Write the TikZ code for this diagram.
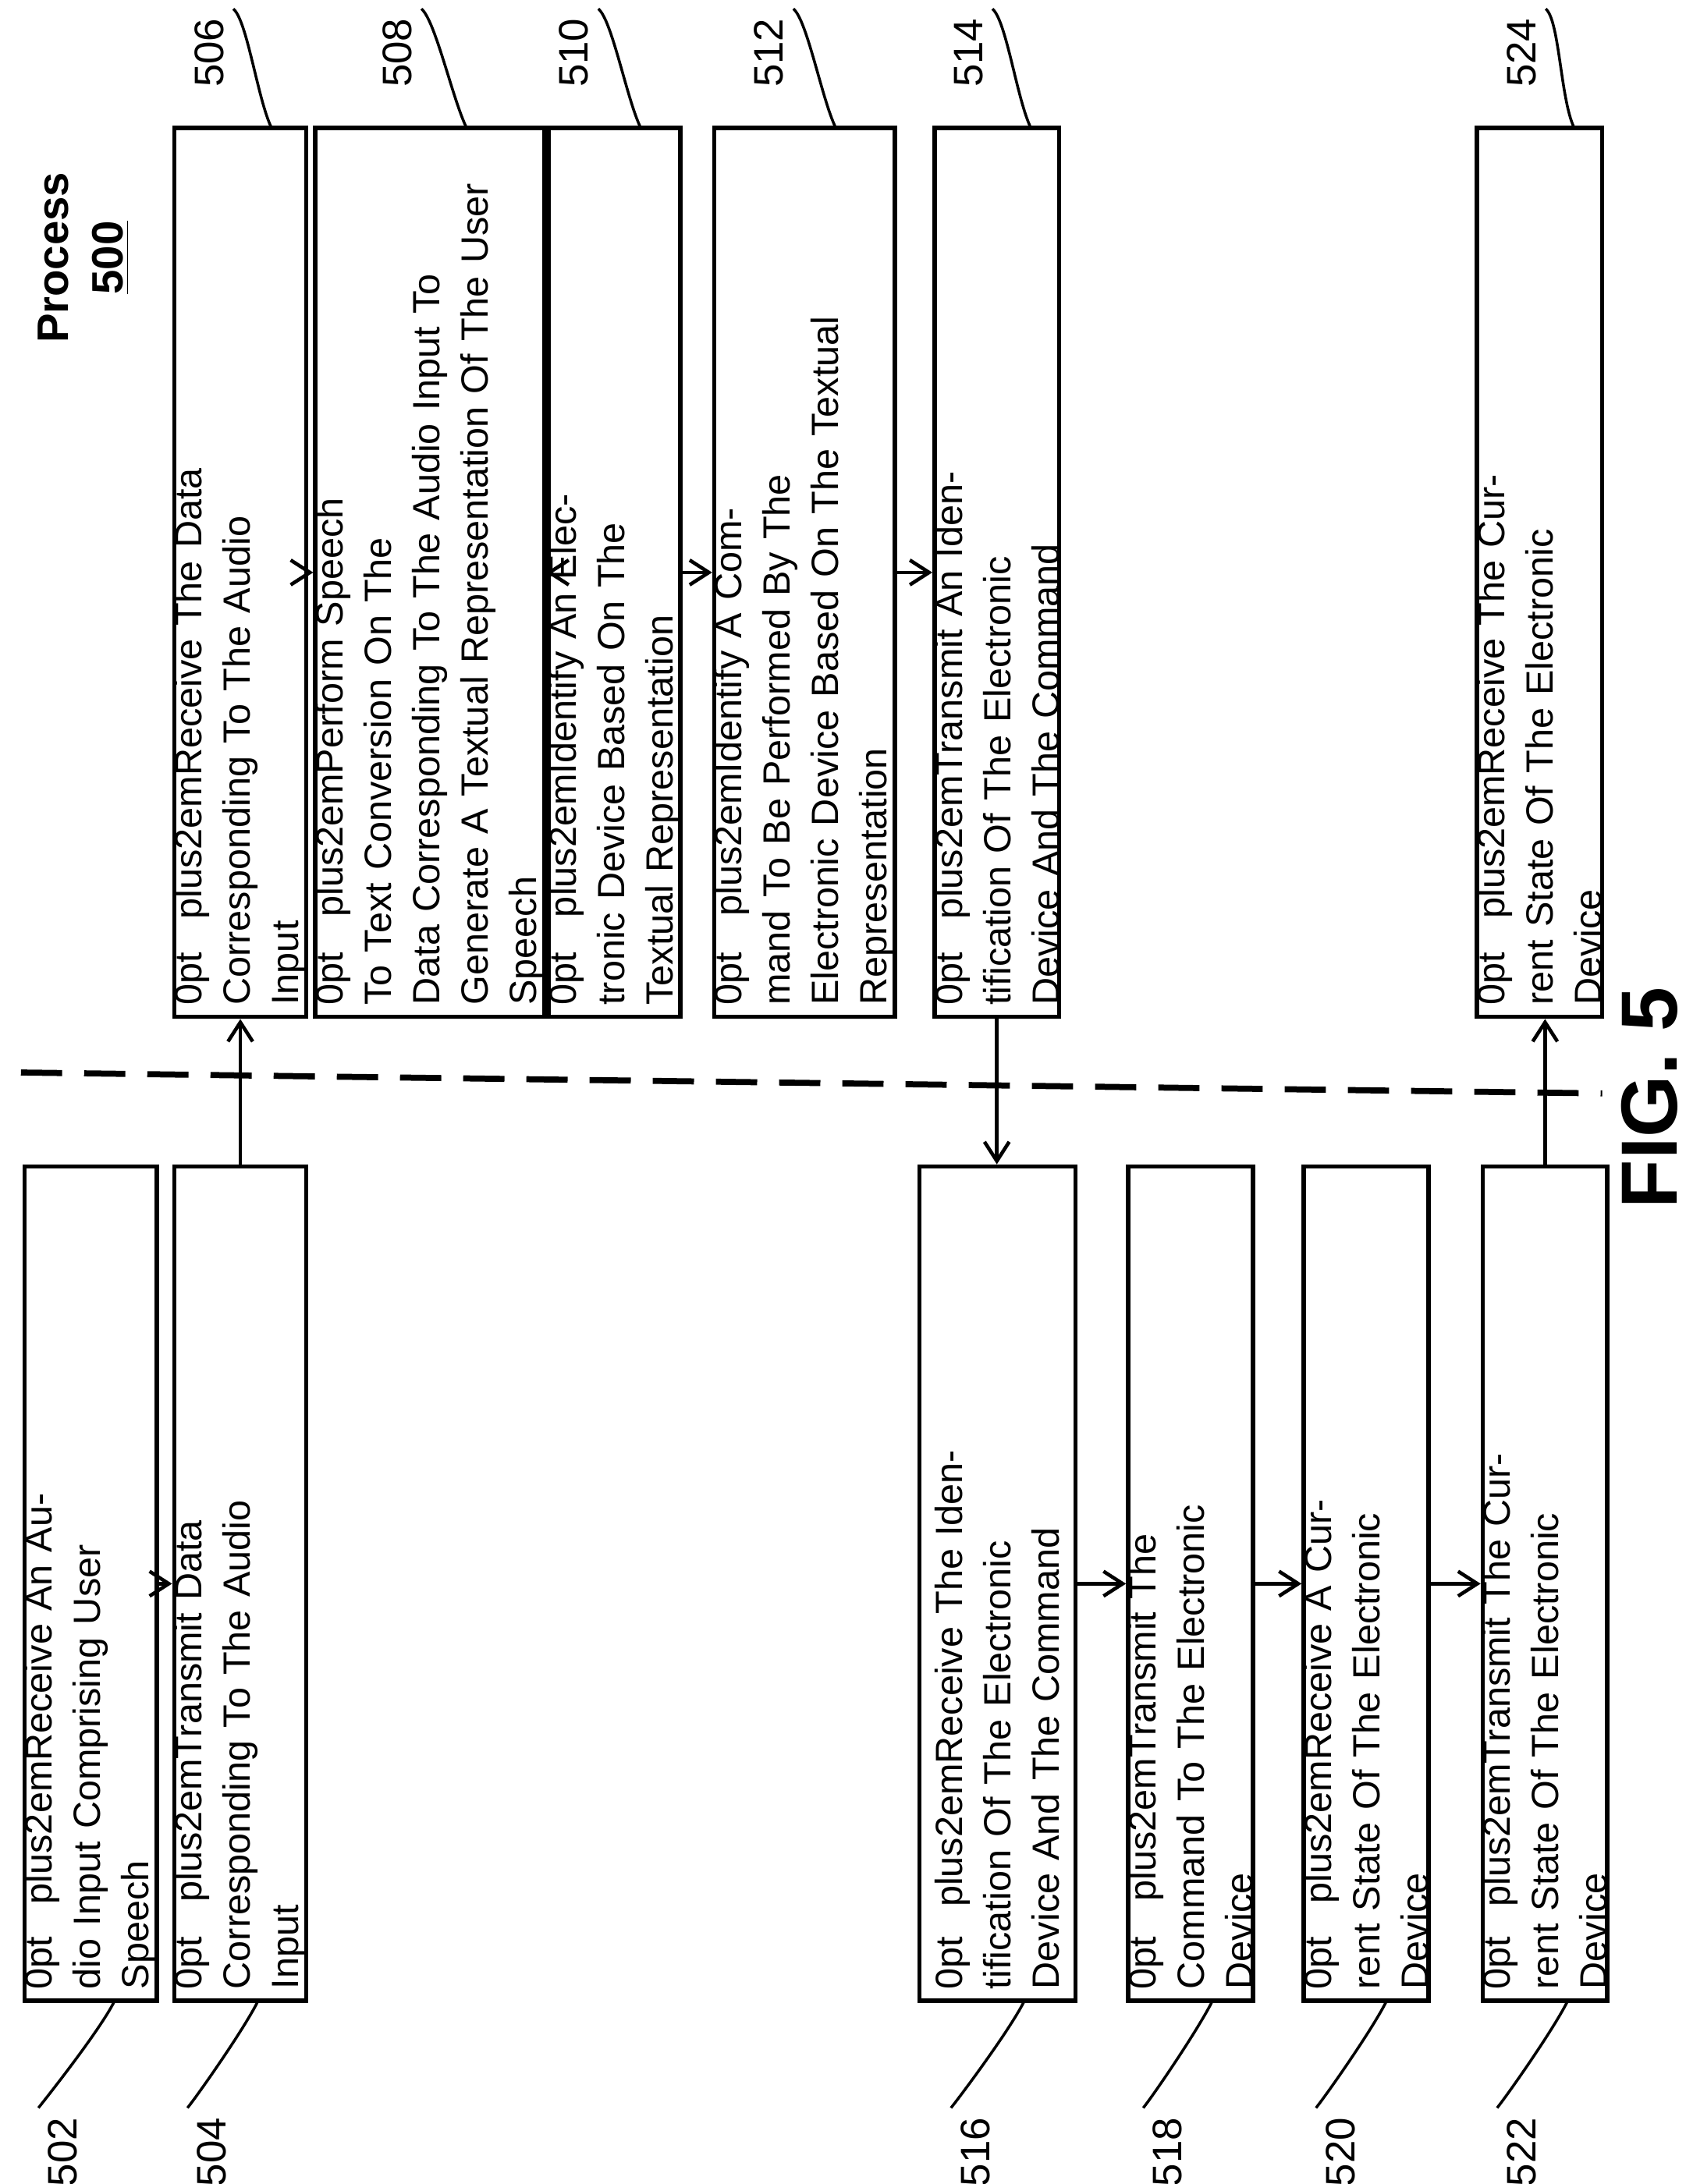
\documentclass[tikz,border=0pt]{standalone}
\usepackage{fontspec}
\setmainfont{Liberation Sans}
\usetikzlibrary{arrows.meta,calc}
\begin{document}
\begin{tikzpicture}[x=0.01782cm,y=-0.01782cm,
 box/.style={draw,line width=1.6pt,rotate=90,align=center,inner sep=0pt,font=\fontsize{13.8}{17.6}\selectfont\hyphenpenalty=10000},
 arr/.style={line width=1.3pt,-{Straight Barb[length=7pt,width=9pt]}},
 lab/.style={rotate=90,font=\fontsize{15}{18}\selectfont},
 lead/.style={line width=1pt}]
\useasboundingbox (0,0) rectangle (1210,1568);
\newcommand{\bx}[6]{%
 \pgfmathsetmacro{\bxw}{#4*0.01782}\pgfmathsetmacro{\bxh}{#5*0.01782}\pgfmathsetmacro{\bxt}{#4*0.01782-0.3}%
 \node[box,minimum width=\bxw cm,minimum height=\bxh cm,text width=\bxt cm] (#1) at (#2,#3) {#6};}
\bx{n502}{65}{1137}{599}{86}{Receive An Audio Input Comprising User\\Speech}
\bx{n504}{172.5}{1137}{599}{79}{Transmit Data Corresponding To The Audio\\Input}
\bx{n506}{172.5}{411}{638}{85}{Receive The Data Corresponding To The Audio\\Input}
\bx{n508}{308.5}{411}{638}{147}{Perform Speech To Text Conversion On The\\Data Corresponding To The Audio Input To\\Generate A Textual Representation Of The User\\Speech}
\bx{n510}{441}{411}{638}{84}{Identify An Electronic Device Based On The\\Textual Representation}
\bx{n512}{577.5}{411}{638}{113}{Identify A Command To Be Performed By The\\Electronic Device Based On The Textual\\Representation}
\bx{n514}{715.5}{411}{638}{83}{Transmit An Identification Of The Electronic\\Device And The Command}
\bx{n524}{1105}{411}{638}{90}{Receive The Current State Of The Electronic\\Device}
\bx{n516}{716}{1137}{599}{112}{Receive The Identification Of The Electronic\\Device And The Command}
\bx{n518}{854.5}{1137}{599}{85}{Transmit The Command To The Electronic\\Device}
\bx{n520}{980.5}{1137}{599}{85}{Receive A Current State Of The Electronic\\Device}
\bx{n522}{1109}{1137}{599}{82}{Transmit The Current State Of The Electronic\\Device}
% arrows
\draw[arr] (n502.south) -- (n504.north);
\draw[arr] (n504.east) -- (n504.east |- n506.west);
\draw[arr] (n506.south) -- (n508.north);
\draw[arr] (n508.south) -- (n510.north);
\draw[arr] (n510.south) -- (n512.north);
\draw[arr] (n512.south) -- (n514.north);
\draw[arr] (n514.west) -- (n514.west |- n516.east);
\draw[arr] (n516.south) -- (n518.north);
\draw[arr] (n518.south) -- (n520.north);
\draw[arr] (n520.south) -- (n522.north);
\draw[arr] (n522.east) -- (n522.east |- n524.west);
% dashed divider
\coordinate (dA) at (15,770); \coordinate (dB) at (1150,785);
\draw[line width=2.2pt,dash pattern=on 15pt off 8pt] (dA) -- (dB);
% bottom labels
\newcommand{\blab}[4]{\node[lab] (#1) at (#2,1545) {#3};
 \coordinate (#1t) at (#4,1437);
 \draw[lead] (#1.north east) .. controls +(8,-10) and +(-10,20) .. (#1t);}
\blab{l502}{45}{502}{82}
\blab{l504}{152}{504}{185}
\blab{l516}{700}{516}{735}
\blab{l518}{838}{518}{870}
\blab{l520}{962}{520}{995}
\blab{l522}{1092}{522}{1125}
% top labels
\newcommand{\tlab}[4]{\node[lab] (#1) at (#2,38) {#3};
 \coordinate (#1t) at (#4,92);
 \draw[lead] (#1.south east) .. controls +(10,8) and +(-10,-20) .. (#1t);}
\tlab{l506}{150}{506}{195}
\tlab{l508}{285}{508}{335}
\tlab{l510}{412}{510}{460}
\tlab{l512}{552}{512}{600}
\tlab{l514}{695}{514}{740}
\tlab{l524}{1092}{524}{1130}
% title
\node[rotate=90,align=center,font=\bfseries\fontsize{16}{20}\selectfont] (proc) at (60,185) {Process\\\underline{500}};
\node[rotate=90,font=\bfseries\fontsize{29}{32}\selectfont] (fig) at (1184,788) {FIG. 5};
\end{tikzpicture}
\end{document}
